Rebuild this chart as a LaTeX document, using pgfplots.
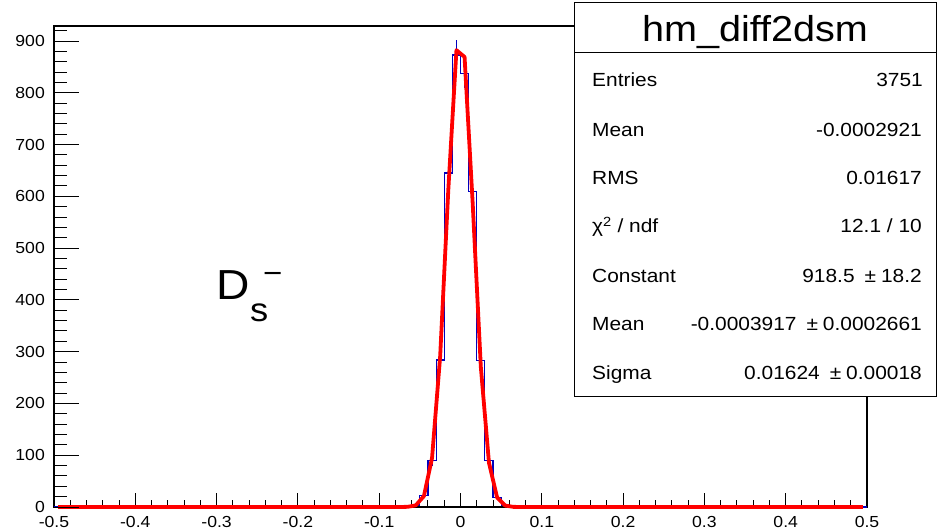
\documentclass[border=0pt]{standalone}
\usepackage{fontspec}
\setmainfont{Liberation Sans}[FakeStretch=1.1]
\usepackage{pgfplots}
\pgfplotsset{compat=1.18}
\definecolor{hblue}{RGB}{0,0,190}
\definecolor{fred}{RGB}{255,0,0}
\begin{document}
\begin{tikzpicture}[x=1pt,y=1pt]
\useasboundingbox (0,0) rectangle (938,531);
% main axis: data + x ticks
\begin{axis}[
  at={(54pt,24pt)}, anchor=south west, scale only axis,
  width=813pt, height=481pt,
  xmin=-0.5, xmax=0.5, ymin=0, ymax=929,
  clip=false,
  axis line style={line width=1.2pt, black},
  tick align=inside,
  xtick pos=lower,
  xtick={-0.5,-0.4,-0.3,-0.2,-0.1,0,0.1,0.2,0.3,0.4,0.5},
  xticklabels={-0.5,-0.4,-0.3,-0.2,-0.1,0,0.1,0.2,0.3,0.4,0.5},
  minor x tick num=4,
  ytick=\empty,
  major tick length=14pt, minor tick length=7pt,
  tick style={black, line width=1pt},
  xticklabel style={font=\fontsize{16}{16}\selectfont, inner sep=0pt, anchor=north, yshift=-9pt},
]
% histogram (bin contents, width 0.01)
\addplot[hblue, line width=1.1pt, const plot mark left] coordinates {
 (-0.5,0) (-0.06,3) (-0.05,22) (-0.04,89) (-0.03,284) (-0.02,645) (-0.01,873)
 (0,838) (0.01,610) (0.02,283) (0.03,89) (0.04,18) (0.05,3) (0.06,0) (0.5,0)
};
% statistical error bars at bin centres
\addplot[draw=none, mark=none, forget plot,
  error bars/.cd, y dir=both, y explicit, error mark=none,
  error bar style={draw=hblue, line width=1.1pt, solid}] coordinates {
 (-0.055,3) +- (0,1.7)
 (-0.045,22) +- (0,4.7)
 (-0.035,89) +- (0,9.4)
 (-0.025,284) +- (0,16.9)
 (-0.015,645) +- (0,25.4)
 (-0.005,873) +- (0,29.5)
 (0.005,838) +- (0,28.9)
 (0.015,610) +- (0,24.7)
 (0.025,283) +- (0,16.8)
 (0.035,89) +- (0,9.4)
 (0.045,18) +- (0,4.2)
 (0.055,3) +- (0,1.7)
};
% gaussian fit, drawn at bin centres
\addplot[fred, line width=3.8pt, line join=round] coordinates {
 (-0.495,0) (-0.085,0) (-0.075,0.02) (-0.065,0.34) (-0.055,3.22) (-0.045,21.1)
 (-0.035,94.8) (-0.025,291.4) (-0.015,612.9) (-0.005,882.3) (0.005,869.2)
 (0.015,586.2) (0.025,270.5) (0.035,85.5) (0.045,18.5) (0.055,2.73)
 (0.065,0.28) (0.075,0.02) (0.085,0) (0.495,0)
};
\end{axis}
% second axis: y ticks only
\begin{axis}[
  at={(54pt,24pt)}, anchor=south west, scale only axis,
  width=813pt, height=481pt,
  xmin=-0.5, xmax=0.5, ymin=0, ymax=929,
  axis line style={draw=none},
  tick align=inside,
  xtick=\empty,
  ytick pos=left,
  ytick={0,100,200,300,400,500,600,700,800,900},
  yticklabels={0,100,200,300,400,500,600,700,800,900},
  minor ytick={20,40,...,920},
  major tick length=25pt, minor tick length=12.5pt,
  tick style={black, line width=1pt},
  yticklabel style={font=\fontsize{16}{16}\selectfont, inner sep=0pt, anchor=east, xshift=-9pt},
]
\addplot[draw=none, forget plot] coordinates {(0,0)};
\end{axis}
% D_s^- label
\node[anchor=base west, inner sep=0pt, font=\fontsize{42}{42}\selectfont] at (216,231) {D};
\node[anchor=base west, inner sep=0pt, font=\fontsize{33}{33}\selectfont] at (250,209) {s};
\node[anchor=base west, inner sep=0pt, font=\fontsize{30}{30}\selectfont] at (263,247) {−};
% statistics box
\draw[fill=white, line width=1pt] (574,135) rectangle (936,528);
\draw[line width=1pt] (574,478) -- (936,478);
\node[anchor=base, inner sep=0pt, font=\fontsize{36}{36}\selectfont] at (755,489) {hm\_diff2dsm};
\begin{scope}[every node/.style={inner sep=0pt, font=\fontsize{19}{19}\selectfont}]
\node[anchor=base west] at (592,444.5) {Entries};
\node[anchor=base east] at (923,444.5) {3751};
\node[anchor=base west] at (592,394.5) {Mean};
\node[anchor=base east] at (922,394.5) {-0.0002921};
\node[anchor=base west] at (592,346.5) {RMS};
\node[anchor=base east] at (922,346.5) {0.01617};
\node[anchor=base west] at (592,298.5) {χ\textsuperscript{2} / ndf};
\node[anchor=base east] at (922,298.5) {12.1 / 10};
\node[anchor=base west] at (592,248.5) {Constant};
\node[anchor=base east] at (922,248.5) {918.5\hspace{10pt}±\hspace{5pt}18.2};
\node[anchor=base west] at (592,200.5) {Mean};
\node[anchor=base east] at (922,200.5) {-0.0003917\hspace{10pt}±\hspace{5pt}0.0002661};
\node[anchor=base west] at (592,151.5) {Sigma};
\node[anchor=base east] at (922,151.5) {0.01624\hspace{10pt}±\hspace{5pt}0.00018};
\end{scope}
\end{tikzpicture}
\end{document}
